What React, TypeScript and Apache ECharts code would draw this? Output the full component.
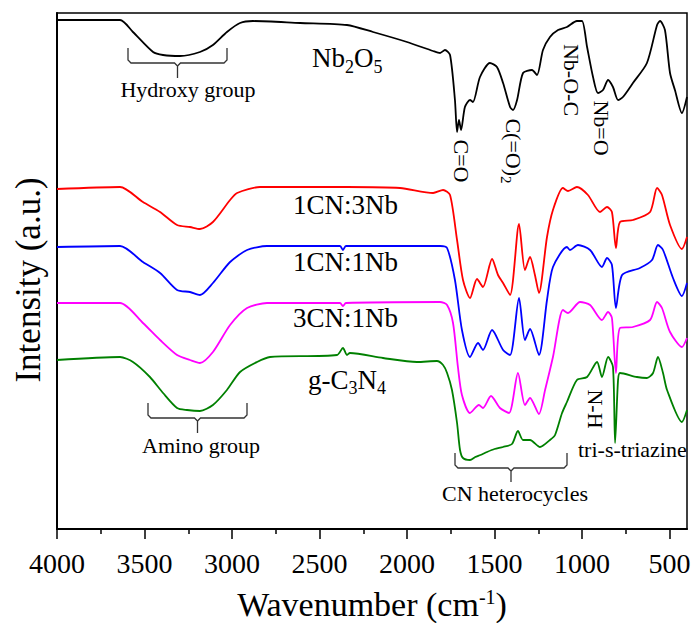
import React, { useEffect, useRef } from 'react';
import * as echarts from 'echarts';

const SERIF = '"Liberation Serif", "Times New Roman", Times, serif';

// Wavenumber axis ticks (cm-1)
const xMajorTicks = [4000, 3500, 3000, 2500, 2000, 1500, 1000, 500];
const xMinorTicks = [3750, 3250, 2750, 2250, 1750, 1250, 750];

// Nb2O5 spectrum (offset, a.u.)
const nb2o5Wn = [4000, 3640, 3566, 3451, 3394, 3297, 3183, 3109, 3029, 2954, 2880, 2611, 2343, 2194, 2000, 1851, 1811, 1783, 1754, 1726, 1714, 1703, 1691, 1669, 1640, 1623, 1583, 1526, 1486, 1451, 1411, 1394, 1371, 1337, 1286, 1257, 1223, 1183, 1137, 1086, 1029, 1000, 971, 937, 909, 880, 851, 823, 794, 766, 709, 629, 571, 554, 526, 497, 469, 429, 400];
const nb2o5Val = [509, 509, 497, 477, 474, 473, 477, 484, 497, 506, 508, 506, 504, 497, 487, 478, 476, 479, 474, 429, 397, 409, 399, 422, 429, 427, 452, 466, 462, 446, 422, 419, 429, 456, 459, 454, 479, 492, 499, 502, 508, 508, 482, 452, 436, 439, 449, 442, 429, 432, 446, 466, 504, 508, 499, 456, 439, 416, 432];

// 1CN:3Nb
const cn1nb3Wn = [4000, 3640, 3509, 3411, 3314, 3240, 3183, 3109, 3011, 2971, 2840, 2343, 2040, 1851, 1794, 1754, 1714, 1680, 1640, 1600, 1566, 1514, 1480, 1451, 1411, 1360, 1326, 1297, 1269, 1246, 1200, 1166, 1109, 1080, 1029, 966, 897, 857, 829, 806, 783, 709, 611, 571, 543, 497, 429, 400];
const cn1nb3Val = [340, 342, 327, 317, 304, 302, 300, 307, 329, 336, 342, 342, 341, 336, 339, 334, 289, 249, 231, 250, 242, 270, 254, 246, 234, 305, 259, 272, 254, 236, 292, 319, 341, 338, 342, 334, 317, 322, 317, 281, 307, 309, 317, 341, 334, 304, 280, 292];

// 1CN:1Nb
const cn1nb1Wn = [4000, 3640, 3509, 3411, 3314, 3240, 3183, 3109, 3011, 2914, 2800, 2383, 2366, 2349, 1811, 1771, 1726, 1686, 1640, 1594, 1566, 1514, 1451, 1411, 1360, 1326, 1297, 1246, 1200, 1166, 1086, 1069, 1023, 954, 886, 857, 829, 806, 771, 669, 600, 566, 537, 480, 429, 400];
const cn1nb1Val = [282, 283, 267, 256, 239, 237, 234, 246, 267, 279, 283, 283, 279, 283, 283, 281, 249, 199, 172, 186, 179, 199, 179, 174, 231, 189, 200, 174, 229, 262, 282, 279, 284, 279, 262, 271, 264, 221, 254, 261, 269, 284, 279, 251, 233, 246];

// 3CN:1Nb
const cn3nb1Wn = [4000, 3640, 3509, 3411, 3314, 3240, 3183, 3109, 3011, 2914, 2800, 2383, 2366, 2349, 1811, 1771, 1737, 1709, 1686, 1640, 1589, 1566, 1520, 1469, 1417, 1366, 1326, 1297, 1246, 1211, 1166, 1109, 1080, 1011, 954, 886, 851, 829, 806, 783, 709, 611, 571, 543, 497, 429, 400];
const cn3nb1Val = [226, 226, 206, 189, 174, 169, 166, 177, 204, 221, 226, 226, 223, 226, 227, 224, 206, 162, 134, 116, 124, 121, 133, 121, 116, 156, 124, 131, 115, 139, 172, 219, 216, 227, 224, 209, 217, 211, 156, 201, 202, 209, 227, 221, 197, 182, 191];

// g-C3N4
const gcnWn = [4000, 3640, 3566, 3469, 3394, 3314, 3257, 3183, 3109, 3029, 2954, 2857, 2783, 2400, 2366, 2343, 2326, 2137, 1943, 1829, 1794, 1771, 1743, 1714, 1697, 1680, 1640, 1610, 1580, 1543, 1500, 1451, 1400, 1366, 1337, 1297, 1240, 1183, 1154, 1114, 1086, 1029, 971, 914, 886, 851, 823, 811, 794, 783, 686, 629, 594, 566, 537, 514, 429, 400];
const gcnVal = [169, 172, 167, 152, 136, 121, 119, 118, 124, 139, 157, 167, 172, 174, 181, 174, 176, 171, 167, 168, 164, 156, 139, 106, 79, 71, 69, 72, 74, 77, 80, 82, 85, 98, 89, 89, 82, 89, 94, 116, 127, 149, 152, 167, 152, 172, 162, 86, 149, 156, 152, 151, 156, 172, 156, 139, 107, 119];

const pairs = (xs: number[], ys: number[]) => xs.map((x, i) => [x, ys[i]]);

const spectra = [
  { name: 'Nb2O5', color: '#000000', wn: nb2o5Wn, val: nb2o5Val },
  { name: '1CN:3Nb', color: '#ff0000', wn: cn1nb3Wn, val: cn1nb3Val },
  { name: '1CN:1Nb', color: '#0000ff', wn: cn1nb1Wn, val: cn1nb1Val },
  { name: '3CN:1Nb', color: '#ff00ff', wn: cn3nb1Wn, val: cn3nb1Val },
  { name: 'g-C3N4', color: '#008000', wn: gcnWn, val: gcnVal },
];

// curly-brace style bracket: ends point up, stem points down
const bracket = (left: number, right: number, top: number, mid: number, stem: number) => {
  const c = (left + right) / 2;
  const style = { stroke: '#333', lineWidth: 1.3, fill: 'none' };
  return [
    { type: 'polyline', shape: { points: [[left, top], [left, mid - 3], [left + 3, mid], [c - 3, mid], [c, mid + 3], [c, stem]] }, style },
    { type: 'polyline', shape: { points: [[c, mid + 3], [c + 3, mid], [right - 3, mid], [right, mid - 3], [right, top]] }, style },
  ];
};

const plainText = (x: number, y: number, text: string, size: number, align = 'center', rotation = 0) => ({
  type: 'text', x, y, rotation,
  style: { text, fontSize: size, fontFamily: SERIF, fill: '#000', align, verticalAlign: 'middle' },
});

// Text with subscripts. Main glyphs hang from the top of the line box, the
// subscripts sit on its bottom; the line box height sets how far they drop.
// (x, y) is the anchor of the main glyphs' centre line.
const subText = (x: number, y: number, text: string, size: number, subSize: number, drop: number, align = 'left', rotation = 0) => {
  const lineH = size / 2 + drop + subSize / 2;
  const shift = lineH / 2 - size / 2;
  const dx = rotation ? -Math.sin(rotation) * 0 : 0;
  const ox = rotation ? x - shift : x + dx;
  const oy = rotation ? y : y + shift;
  return {
    type: 'text', x: ox, y: oy, rotation,
    style: {
      text, align, verticalAlign: 'middle', fill: '#000',
      rich: {
        m: { fontSize: size, fontFamily: SERIF, color: '#000', lineHeight: size, verticalAlign: 'top' },
        s: { fontSize: subSize, fontFamily: SERIF, color: '#000', lineHeight: lineH, verticalAlign: 'bottom' },
      },
    },
  };
};

export default function App() {
  const ref = useRef<HTMLDivElement>(null);

  useEffect(() => {
    document.body.style.margin = '0';
    if (!ref.current) return;
    const chart = echarts.init(ref.current, null, { renderer: 'svg' });

    const rotCW = -Math.PI / 2;

    const graphic: any[] = [
      // sample names
      subText(312, 57.5, '{m|Nb}{s|2}{m|O}{s|5}', 27, 18, 9),
      plainText(293, 205, '1CN:3Nb', 27, 'left'),
      plainText(293, 262, '1CN:1Nb', 27, 'left'),
      plainText(293, 318, '3CN:1Nb', 27, 'left'),
      subText(308, 380, '{m|g-C}{s|3}{m|N}{s|4}', 27, 18, 8),
      // band assignments
      plainText(188, 89, 'Hydroxy group', 22),
      plainText(201, 445, 'Amino group', 22),
      plainText(515, 493, 'CN heterocycles', 22),
      plainText(578, 449, 'tri-s-triazine', 22, 'left'),
      plainText(461, 161, 'C=O', 22, 'center', rotCW),
      subText(513, 151, '{m|C(=O)}{s|2}', 22, 15, 7, 'center', rotCW),
      plainText(571, 80, 'Nb-O-C', 22, 'center', rotCW),
      plainText(601, 128, 'Nb=O', 22, 'center', rotCW),
      plainText(595, 409, 'N-H', 22, 'center', rotCW),
      ...bracket(128, 227, 48, 63, 78),
      ...bracket(148, 247, 403, 418, 433),
      ...bracket(455, 567, 453, 468, 482),
      // axis titles
      {
        type: 'text', x: 372, y: 604,
        style: {
          text: '{m|Wavenumber (cm}{p|-1}{m|)}', align: 'center', verticalAlign: 'middle',
          rich: {
            m: { fontSize: 34, fontFamily: SERIF, color: '#000', lineHeight: 34 },
            p: { fontSize: 20, fontFamily: SERIF, color: '#000', lineHeight: 20, verticalAlign: 'top' },
          },
        },
      },
      plainText(28, 280, 'Intensity (a.u.)', 35, 'center', Math.PI / 2),
    ];

    const axisCommon = {
      type: 'value' as const,
      min: 400,
      max: 4000,
      inverse: true,
      gridIndex: 0,
      position: 'bottom' as const,
      splitLine: { show: false },
    };

    chart.setOption({
      animation: false,
      backgroundColor: '#ffffff',
      grid: { left: 57, right: 7, top: 13, bottom: 94, show: true, borderColor: '#000', borderWidth: 1.5, backgroundColor: 'transparent' },
      xAxis: [
        {
          ...axisCommon,
          axisLine: { show: true, lineStyle: { color: '#000', width: 2 } },
          axisTick: { show: true, customValues: xMajorTicks, length: 10, inside: false, lineStyle: { color: '#000', width: 1.5 } },
          axisLabel: {
            show: true, customValues: xMajorTicks, fontSize: 28, fontFamily: SERIF, color: '#000', margin: 20,
            formatter: (v: number) => String(v),
          },
        },
        {
          ...axisCommon,
          axisLine: { show: false },
          axisTick: { show: true, customValues: xMinorTicks, length: 5, inside: false, lineStyle: { color: '#000', width: 1.5 } },
          axisLabel: { show: false },
        },
      ],
      yAxis: {
        type: 'value',
        min: 0,
        max: 516,
        axisLine: { show: true, lineStyle: { color: '#000', width: 2 } },
        axisTick: { show: false },
        axisLabel: { show: false },
        splitLine: { show: false },
      },
      series: spectra.map((s) => ({
        name: s.name,
        type: 'line',
        xAxisIndex: 0,
        data: pairs(s.wn, s.val),
        showSymbol: false,
        smooth: 0.25,
        lineStyle: { color: s.color, width: 1.8 },
        itemStyle: { color: s.color },
        z: 3,
      })),
      graphic,
    });

    return () => chart.dispose();
  }, []);

  return <div ref={ref} style={{ width: 694, height: 623 }} />;
}
